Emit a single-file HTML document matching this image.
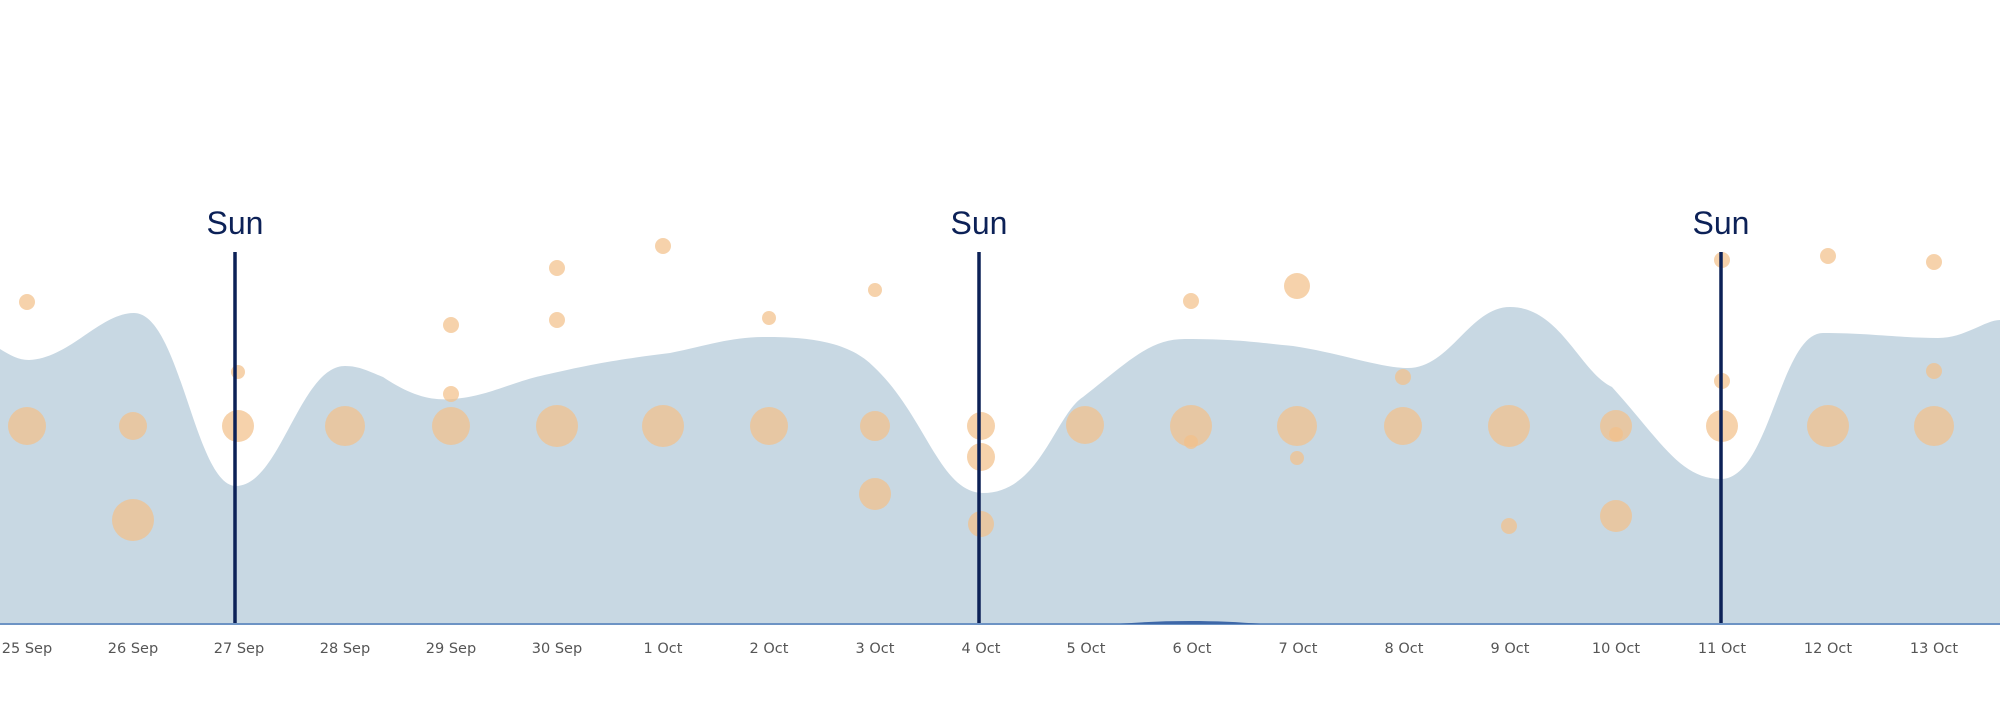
<!DOCTYPE html>
<html><head><meta charset="utf-8"><style>
html,body{margin:0;padding:0;background:#fff;}
svg{display:block}
</style></head><body>
<svg width="2000" height="715" viewBox="0 0 2000 715" xmlns="http://www.w3.org/2000/svg">
<path d="M0,349 C10,355 18,360 29,360 C70,358 100,313 134,313 C180,313 195,486 236,486 C280,486 300,366 345,366 C360,366 370,372 383,377 C410,395 430,401 453,399 C490,396 510,382 549,374 C600,362 630,358 670,353 C710,345 730,337 766,337 C810,337 850,342 874,367 C925,415 940,493 983,493 C1040,493 1055,415 1083,397 C1130,360 1150,339 1185,339 C1240,339 1260,343 1293,346 C1340,353 1380,368 1408,368 C1450,368 1470,307 1510,307 C1560,307 1580,372 1612,387 C1660,440 1680,479 1721,479 C1770,479 1780,333 1823,333 C1870,333 1900,338 1938,338 C1965,338 1985,320 2000,320 L2000,624 L0,624 Z" fill="#c8d8e3"/>
<line x1="0" y1="624" x2="2000" y2="624" stroke="#6d93c4" stroke-width="2"/>
<path d="M1120,624 C1160,620 1220,620 1260,624 Z" fill="#3d67a8"/>
<g fill="#f2c08a" fill-opacity="0.72">
<circle cx="27" cy="302" r="8"/><circle cx="27" cy="426" r="19"/>
<circle cx="133" cy="426" r="14"/><circle cx="133" cy="520" r="21"/>
<circle cx="238" cy="372" r="7"/><circle cx="238" cy="426" r="16"/>
<circle cx="345" cy="426" r="20"/>
<circle cx="451" cy="325" r="8"/><circle cx="451" cy="394" r="8"/><circle cx="451" cy="426" r="19"/>
<circle cx="557" cy="268" r="8"/><circle cx="557" cy="320" r="8"/><circle cx="557" cy="426" r="21"/>
<circle cx="663" cy="246" r="8"/><circle cx="663" cy="426" r="21"/>
<circle cx="769" cy="318" r="7"/><circle cx="769" cy="426" r="19"/>
<circle cx="875" cy="290" r="7"/><circle cx="875" cy="426" r="15"/><circle cx="875" cy="494" r="16"/>
<circle cx="981" cy="426" r="14"/><circle cx="981" cy="457" r="14"/><circle cx="981" cy="524" r="13"/>
<circle cx="1085" cy="425" r="19"/>
<circle cx="1191" cy="301" r="8"/><circle cx="1191" cy="426" r="21"/><circle cx="1191" cy="442" r="7"/>
<circle cx="1297" cy="286" r="13"/><circle cx="1297" cy="426" r="20"/><circle cx="1297" cy="458" r="7"/>
<circle cx="1403" cy="377" r="8"/><circle cx="1403" cy="426" r="19"/>
<circle cx="1509" cy="426" r="21"/><circle cx="1509" cy="526" r="8"/>
<circle cx="1616" cy="426" r="16"/><circle cx="1616" cy="434" r="7"/><circle cx="1616" cy="516" r="16"/>
<circle cx="1722" cy="260" r="8"/><circle cx="1722" cy="381" r="8"/><circle cx="1722" cy="426" r="16"/>
<circle cx="1828" cy="256" r="8"/><circle cx="1828" cy="426" r="21"/>
<circle cx="1934" cy="262" r="8"/><circle cx="1934" cy="371" r="8"/><circle cx="1934" cy="426" r="20"/>
</g>
<g stroke="#0c2157" stroke-width="3.5">
<line x1="235" y1="252" x2="235" y2="623"/>
<line x1="979" y1="252" x2="979" y2="623"/>
<line x1="1721" y1="252" x2="1721" y2="623"/>
</g>
<g font-family="'Liberation Sans',sans-serif" font-size="32" fill="#0c2157" text-anchor="middle">
<text x="235" y="234">Sun</text><text x="979" y="234">Sun</text><text x="1721" y="234">Sun</text>
</g>
<g font-family="'DejaVu Sans','Liberation Sans',sans-serif" font-size="14.5" fill="#555" text-anchor="middle">
<text x="27" y="653">25 Sep</text><text x="133" y="653">26 Sep</text><text x="239" y="653">27 Sep</text>
<text x="345" y="653">28 Sep</text><text x="451" y="653">29 Sep</text><text x="557" y="653">30 Sep</text>
<text x="663" y="653">1 Oct</text><text x="769" y="653">2 Oct</text><text x="875" y="653">3 Oct</text>
<text x="981" y="653">4 Oct</text><text x="1086" y="653">5 Oct</text><text x="1192" y="653">6 Oct</text>
<text x="1298" y="653">7 Oct</text><text x="1404" y="653">8 Oct</text><text x="1510" y="653">9 Oct</text>
<text x="1616" y="653">10 Oct</text><text x="1722" y="653">11 Oct</text><text x="1828" y="653">12 Oct</text>
<text x="1934" y="653">13 Oct</text>
</g>
</svg>
</body></html>
